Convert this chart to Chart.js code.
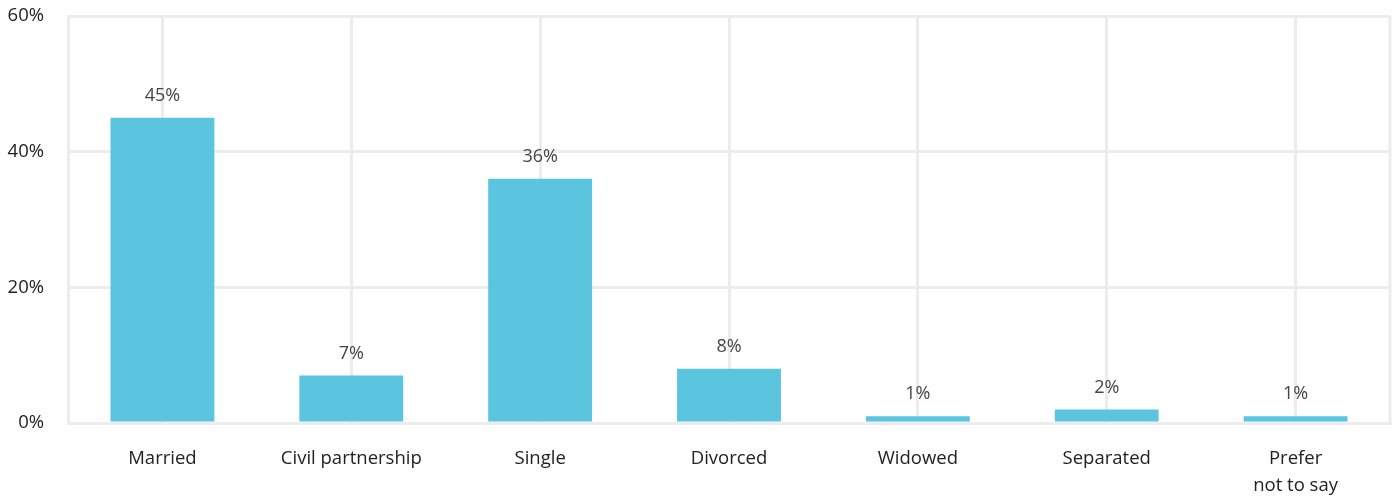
<!DOCTYPE html>
<html>
<head>
<meta charset="utf-8">
<script src="https://cdn.jsdelivr.net/npm/chart.js@4"></script>
<style>
  html, body { margin: 0; padding: 0; background: #fff; }
  #wrap { width: 1393px; height: 498px; }
</style>
</head>
<body>
<div id="wrap"><canvas id="graficoEstado"></canvas></div>
<script>
const categorias = ["Married", "Civil partnership", "Single", "Divorced", "Widowed", "Separated", ["Prefer", "not to say"]]
const porcentajes = [45, 7, 36, 8, 1, 2, 1]
const ticksY = [0, 20, 40, 60]

const colorBarra = "#5bc5e0"
const colorRejilla = "#ececec"

// etiqueta de valor encima de cada barra
const etiquetas = {
  id: "etiquetas",
  afterDatasetsDraw(chart) {
    const ctx = chart.ctx
    const meta = chart.getDatasetMeta(0)
    ctx.save()
    ctx.font = "18px 'Open Sans'"
    ctx.fillStyle = "#444"
    ctx.textAlign = "center"
    ctx.textBaseline = "middle"
    meta.data.forEach((barra, i) => {
      ctx.fillText(porcentajes[i] + "%", barra.x, barra.y - 22)
    })
    ctx.restore()
  },
}

// linea del borde derecho
const bordeDerecho = {
  id: "bordeDerecho",
  beforeDatasetsDraw(chart) {
    const { ctx, chartArea } = chart
    ctx.save()
    ctx.strokeStyle = colorRejilla
    ctx.lineWidth = 3
    ctx.beginPath()
    ctx.moveTo(chartArea.right, chartArea.top)
    ctx.lineTo(chartArea.right, chartArea.bottom)
    ctx.stroke()
    ctx.restore()
  },
}

new Chart(document.getElementById("graficoEstado"), {
  type: "bar",
  data: {
    labels: categorias,
    datasets: [
      {
        data: porcentajes,
        backgroundColor: colorBarra,
        barPercentage: 0.55,
        categoryPercentage: 1,
      },
    ],
  },
  options: {
    responsive: true,
    maintainAspectRatio: false,
    animation: false,
    layout: { padding: { top: 0, right: 3, left: 4, bottom: 0 } },
    plugins: {
      legend: { display: false },
      tooltip: { enabled: false },
    },
    scales: {
      x: {
        afterFit: (eje) => {
          eje.height = 75
        },
        grid: { color: colorRejilla, lineWidth: 3, offset: false, drawTicks: false },
        border: { color: colorRejilla, width: 3 },
        ticks: {
          color: "#222",
          font: { family: "Open Sans", size: 18.5, lineHeight: 1.45 },
          padding: 22,
          maxRotation: 0,
        },
      },
      y: {
        min: 0,
        max: 60,
        afterBuildTicks: (eje) => {
          eje.ticks = ticksY.map((v) => ({ value: v }))
        },
        afterFit: (eje) => {
          eje.width = 64
          eje.paddingTop = 16
          eje.paddingBottom = 10
        },
        grid: { color: colorRejilla, lineWidth: 3, drawTicks: false },
        border: { color: colorRejilla, width: 3 },
        ticks: {
          color: "#222",
          font: { family: "Open Sans", size: 18.5 },
          padding: 24,
          callback: (v) => v + "%",
        },
      },
    },
  },
  plugins: [etiquetas, bordeDerecho],
})
</script>
</body>
</html>
